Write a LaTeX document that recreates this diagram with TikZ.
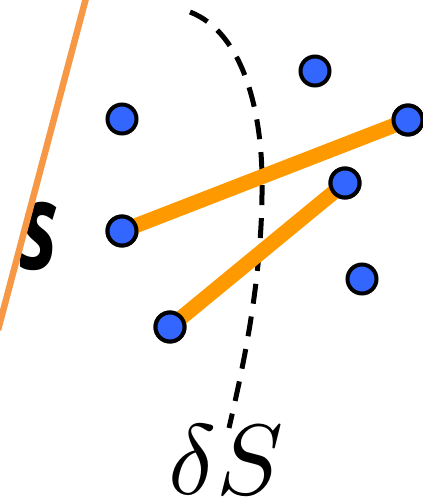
\documentclass[tikz,border=0pt]{standalone}
\usepackage{fontspec}
\usepackage{unicode-math}
\newfontfamily\sfbold{Open Sans}
\tikzset{
  dot/.style={circle,draw=black,line width=4pt,fill=dotblue,minimum size=29pt,inner sep=0pt},
  thickbar/.style={draw=barorange,line width=15pt},
  boundary/.style={draw=black,line width=5pt,dash pattern=on 20pt off 13pt},
  thinline/.style={draw=lineorange,line width=6.5pt}
}
\definecolor{dotblue}{RGB}{51,102,255}
\definecolor{barorange}{RGB}{255,153,0}
\definecolor{lineorange}{RGB}{247,152,70}
\begin{document}
\begin{tikzpicture}[x=1pt,y=-1pt]
\useasboundingbox (0,0) rectangle (423,504);
% big s
\node[anchor=base,font=\sfbold\bfseries\itshape\fontsize{121}{121}\selectfont,xscale=0.68,inner sep=0pt] (s) at (39,269) {s};
% thin line
\coordinate (ltop) at (86,-2);
\coordinate (lbot) at (-2,330);
\draw[thinline] (ltop) -- (lbot);
% dashed boundary
\coordinate (b0) at (190,12);
\coordinate (b1) at (262,195);
\coordinate (b2) at (229,428);
\draw[boundary] (b0) .. controls (242,32) and (264,110) .. (b1) .. controls (261,290) and (240,380) .. (b2);
% label
\node[anchor=base,inner sep=0pt,font=\fontsize{100}{100}\selectfont] (lab) at (226,494) {$\delta S$};
% dots
\node[dot] (p1) at (122,119) {};
\node[dot] (p2) at (315,71) {};
\node[dot] (p3) at (408,120) {};
\node[dot] (p4) at (345,183) {};
\node[dot] (p5) at (122,231) {};
\node[dot] (p6) at (362,279) {};
\node[dot] (p7) at (170,327) {};
% bars
\draw[thickbar,shorten <=10pt,shorten >=10pt] (p5.center) -- (p3.center);
\draw[thickbar,shorten <=10pt,shorten >=10pt] (p7.center) -- (p4.center);
% redraw dots on top
\node[dot] at (p3) {};
\node[dot] at (p4) {};
\node[dot] at (p5) {};
\node[dot] at (p7) {};
\end{tikzpicture}
\end{document}
